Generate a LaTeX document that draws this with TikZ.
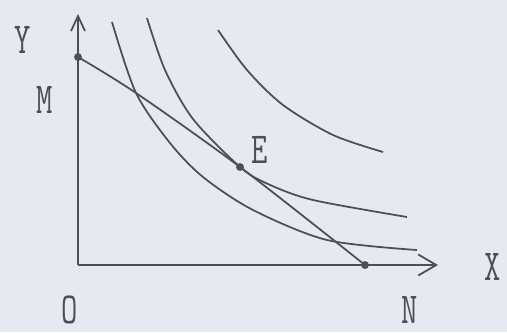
\documentclass[tikz,border=0pt]{standalone}
\usetikzlibrary{arrows.meta, positioning}
\definecolor{paper}{RGB}{231,233,241}
\definecolor{ink}{RGB}{78,78,88}

\begin{document}
\begin{tikzpicture}[line width=1pt, color=ink,
        every node/.style={font=\ttfamily\fontsize{18}{18}\selectfont},
        letter/.style={yscale=1.4, transform shape, inner sep=0pt},
        pt/.style={circle, fill=ink, inner sep=0pt, minimum size=4.5pt}]
        % Frame
        \fill[paper] (-1.56,-1.34) rectangle (8.58,5.30);
        \useasboundingbox (-1.56,-1.34) rectangle (8.58,5.30);

        % Axis
        \coordinate (O) at (0,0);
        \coordinate (ytip) at (0,5.02);
        \coordinate (xtip) at (7.2,0);
        \draw[-{Straight Barb[length=3mm,width=2.8mm]}] (O) -- (ytip);
        \draw[-{Straight Barb[length=3.6mm,width=4.2mm]}] (O) -- (xtip);

        % Points
        \node[pt] (M) at (0,4.16) {};
        \node[pt] (N) at (5.74,0) {};
        \node[pt] (E) at (3.24,1.96) {};

        % Budget line
        \draw plot[smooth] coordinates {(M.center) (1.16,3.44) (E.center) (N.center)};

        % Indifference curves
        \draw plot[smooth] coordinates {(0.68,4.86) (1.16,3.44) (1.84,2.44) (2.5,1.76) (3.5,1.1) (4.98,0.5) (6.78,0.3)};
        \draw plot[smooth] coordinates {(1.38,4.94) (1.74,3.9) (2.3,2.92) (E.center) (3.8,1.62) (4.7,1.3) (6.58,0.96)};
        \draw plot[smooth] coordinates {(2.8,4.7) (3.38,3.9) (4.1,3.2) (5.1,2.6) (6.1,2.26)};

        % Labels
        \node[letter] (Ylab) at (-1.1,4.5) {Y};
        \node[letter] (Mlab) at (-0.66,3.3) {M};
        \node[letter] (Olab) at (-0.16,-0.9) {O};
        \node[letter] (Nlab) at (6.64,-0.9) {N};
        \node[letter] (Xlab) at (8.3,-0.04) {X};
        \node[letter] (Elab) at (3.64,2.3) {E};
    \end{tikzpicture}
\end{document}
